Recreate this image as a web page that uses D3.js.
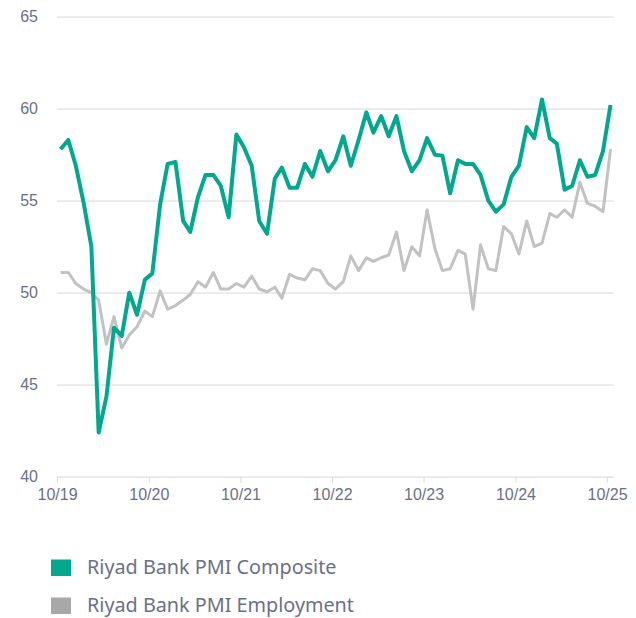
<!DOCTYPE html>
<html>
<head>
<meta charset="utf-8">
<script src="https://cdn.jsdelivr.net/npm/d3@7"></script>
<style>
  body { margin: 0; background: #fff; }
  svg { display: block; font-family: "Noto Sans", sans-serif; }
</style>
</head>
<body>
<div id="chart"></div>
<script>
// monthly readings, Oct 2019 .. Oct 2025
var startMonth = "10/19";
var composite = [57.8, 58.3, 56.9, 54.9, 52.5, 42.4, 44.35, 48.1, 47.65, 50.0, 48.8, 50.7,
  51.05, 54.8, 57.0, 57.1, 53.9, 53.3, 55.2, 56.4, 56.4, 55.8, 54.1, 58.6,
  57.9, 56.9, 53.9, 53.2, 56.2, 56.8, 55.7, 55.7, 57.0, 56.3, 57.7, 56.6,
  57.2, 58.5, 56.9, 58.3, 59.8, 58.7, 59.6, 58.5, 59.6, 57.7, 56.6, 57.2,
  58.4, 57.5, 57.45, 55.4, 57.2, 57.0, 57.0, 56.4, 55.0, 54.4, 54.8, 56.3,
  56.9, 59.0, 58.4, 60.5, 58.4, 58.1, 55.6, 55.8, 57.2, 56.3, 56.4, 57.7,
  60.2];
var employment = [51.1, 51.1, 50.5, 50.2, 50.0, 49.6, 47.2, 48.7, 47.0, 47.7, 48.15, 49.0,
  48.7, 50.1, 49.1, 49.3, 49.6, 49.9, 50.6, 50.3, 51.1, 50.2, 50.2, 50.5,
  50.3, 50.9, 50.2, 50.05, 50.3, 49.7, 51.0, 50.8, 50.7, 51.3, 51.2, 50.5,
  50.2, 50.6, 52.0, 51.2, 51.9, 51.7, 51.9, 52.05, 53.3, 51.2, 52.5, 52.0,
  54.5, 52.4, 51.2, 51.3, 52.3, 52.1, 49.1, 52.6, 51.3, 51.2, 53.6, 53.2,
  52.1, 53.9, 52.5, 52.7, 54.3, 54.1, 54.5, 54.1, 56.0, 54.85, 54.7, 54.4,
  57.8];
var xTickLabels = ["10/19", "10/20", "10/21", "10/22", "10/23", "10/24", "10/25"];
var yTicks = [40, 45, 50, 55, 60, 65];
var seriesNames = ["Riyad Bank PMI Composite", "Riyad Bank PMI Employment"];
var seriesColors = ["#00a88f", "#c2c2c2"];
var legendColors = ["#00a88f", "#a8a8a8"];

var width = 636, height = 618;
var plot = {left: 57, right: 614, top: 16.7, bottom: 476.7};

var parseMonth = d3.timeParse("%m/%y");
var start = parseMonth(startMonth);
// points sit mid-month
function monthDate(i) { return new Date(start.getFullYear(), start.getMonth() + i, 15); }

var tickDates = xTickLabels.map(parseMonth);
var x = d3.scaleTime()
    .domain([tickDates[0], tickDates[tickDates.length - 1]])
    .range([plot.left, 607]);
var y = d3.scaleLinear().domain([40, 65]).range([plot.bottom, plot.top]);

var svg = d3.select("#chart").append("svg")
    .attr("width", width)
    .attr("height", height);

// gridlines + y labels
var gy = svg.append("g")
    .attr("transform", "translate(" + plot.left + ",0)")
    .call(d3.axisLeft(y).tickValues(yTicks).tickSize(-(plot.right - plot.left)).tickPadding(19));
gy.select(".domain").remove();
gy.selectAll(".tick line").attr("stroke", "#e0e0e0").attr("stroke-width", 1.2);
gy.selectAll(".tick text").attr("fill", "#6b7088").style("font-size", "16px");

// x axis ticks
var gx = svg.append("g")
    .attr("transform", "translate(0," + plot.bottom + ")")
    .call(d3.axisBottom(x).tickValues(tickDates).tickSize(6).tickPadding(6)
      .tickFormat(d3.timeFormat("%m/%y")));
gx.select(".domain").remove();
gx.selectAll(".tick line").attr("stroke", "#e0e0e0").attr("stroke-width", 1.2);
gx.selectAll(".tick text").attr("fill", "#6b7088").style("font-size", "16px");

var line = d3.line()
    .x(function(d, i) { return x(monthDate(i)); })
    .y(function(d) { return y(d); });

svg.append("path")
    .datum(employment)
    .attr("fill", "none")
    .attr("stroke", seriesColors[1])
    .attr("stroke-width", 3)
    .attr("stroke-linejoin", "round")
    .attr("d", line);

svg.append("path")
    .datum(composite)
    .attr("fill", "none")
    .attr("stroke", seriesColors[0])
    .attr("stroke-width", 4)
    .attr("stroke-linejoin", "round")
    .attr("d", line);

// legend
var legendY = [559.5, 597.5];
seriesNames.forEach(function(name, i) {
  var g = svg.append("g");
  g.append("rect")
    .attr("x", 51).attr("y", legendY[i])
    .attr("width", 20).attr("height", 16.5)
    .attr("fill", legendColors[i]);
  g.append("text")
    .attr("x", 87).attr("y", legendY[i] + 14.5)
    .attr("fill", "#6b7088")
    .style("font-size", "19.8px")
    .text(name);
});
</script>
</body>
</html>
